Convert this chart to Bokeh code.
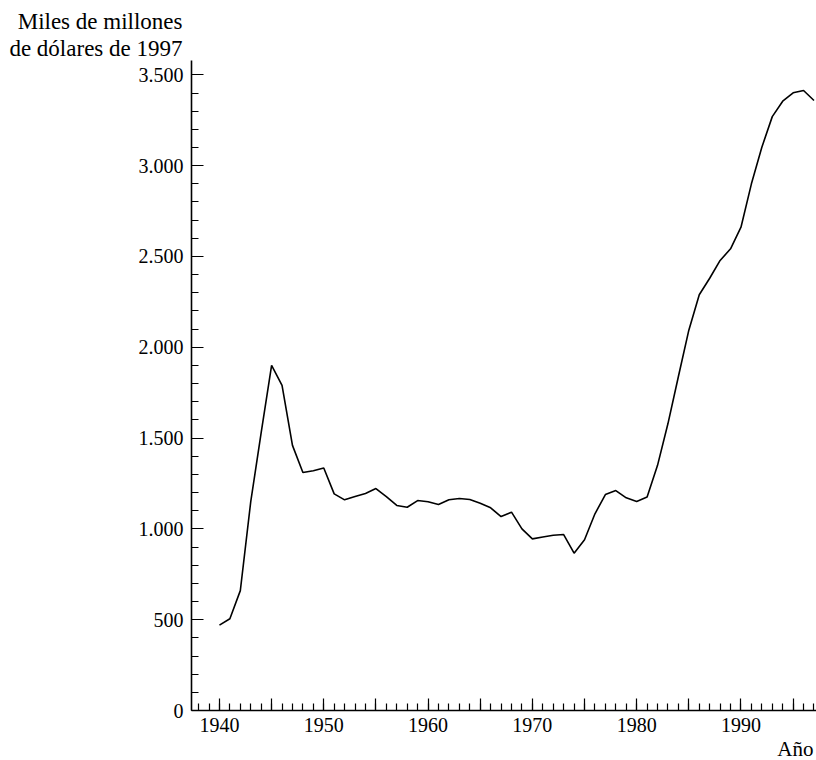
from bokeh.plotting import figure
from bokeh.models import FixedTicker, Range1d, Title
from bokeh.embed import file_html
from bokeh.resources import INLINE

years = list(range(1940, 1998))
values = [470, 505, 660, 1150, 1530, 1900, 1790, 1460, 1310, 1320,
          1335, 1193, 1160, 1178, 1195, 1222, 1178, 1129, 1119, 1156,
          1149, 1134, 1160, 1167, 1162, 1141, 1116, 1068, 1092, 1000,
          945, 955, 965, 969, 866, 940, 1083, 1189, 1211, 1171,
          1151, 1175, 1350, 1580, 1839, 2094, 2289, 2380, 2478, 2542,
          2661, 2900, 3101, 3270, 3355, 3401, 3414, 3359]

y_ticks = [0, 500, 1000, 1500, 2000, 2500, 3000, 3500]
y_tick_labels = ["0", "500", "1.000", "1.500", "2.000", "2.500", "3.000", "3.500"]
x_ticks = list(range(1940, 1996, 5))
x_tick_labels = [str(t) if t % 10 == 0 else "" for t in x_ticks]

y_title_1 = "Miles de millones"
y_title_2 = "de dólares de 1997"
x_title = "Año"

FONT = "Liberation Serif"
FS = "20px"

p = figure(width=816, height=760, output_backend="svg", toolbar_location=None,
           x_range=Range1d(1937.32, 1997.24), y_range=Range1d(0, 3579),
           min_border_left=191, min_border_right=0, min_border_top=60,
           min_border_bottom=50)
p.outline_line_color = None
p.xgrid.visible = False
p.ygrid.visible = False
p.background_fill_color = "white"
p.border_fill_color = "white"

p.line(years, values, line_color="black", line_width=1.6)

xa = p.xaxis[0]
xa.ticker = FixedTicker(ticks=x_ticks, minor_ticks=list(range(1938, 1998)))
xa.major_label_overrides = {t: l for t, l in zip(x_ticks, x_tick_labels)}
xa.major_tick_in = 12
xa.major_tick_out = 0
xa.minor_tick_in = 7
xa.minor_tick_out = 0
xa.axis_line_width = 1.6
xa.major_tick_line_width = 1.2
xa.minor_tick_line_width = 1.2
xa.major_label_text_font = FONT
xa.major_label_text_font_size = FS
xa.major_label_text_color = "black"
xa.major_label_standoff = 7

ya = p.yaxis[0]
ya.ticker = FixedTicker(ticks=y_ticks, minor_ticks=list(range(0, 3600, 100)))
ya.major_label_overrides = {t: l for t, l in zip(y_ticks, y_tick_labels)}
ya.major_tick_in = 12
ya.major_tick_out = 0
ya.minor_tick_in = 7
ya.minor_tick_out = 0
ya.axis_line_width = 1.6
ya.major_tick_line_width = 1.2
ya.minor_tick_line_width = 1.2
ya.major_label_text_font = FONT
ya.major_label_text_font_size = FS
ya.major_label_text_color = "black"
ya.major_label_standoff = 8


def mk_title(txt, align, offset, size, lh=1.2):
    return Title(text=txt, align=align, offset=offset, standoff=0,
                 text_font=FONT, text_font_size=size, text_font_style="normal",
                 text_color="black", text_line_height=lh)


p.add_layout(mk_title(y_title_2, "right", 634, "23px", 0.85), "above")
p.add_layout(mk_title(y_title_1, "right", 634, "23px", 0.85), "above")
p.add_layout(mk_title(x_title, "right", 3, "21px"), "below")

open("out.html", "w").write(file_html(p, INLINE))
